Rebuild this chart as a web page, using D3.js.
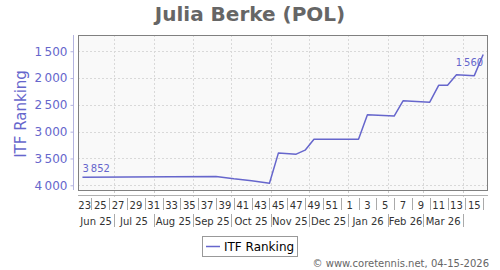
<!DOCTYPE html>
<html><head><meta charset="utf-8">
<script src="https://cdn.jsdelivr.net/npm/d3@7"></script>
<style>
body{margin:0;background:#fff}
svg{display:block;font-family:"DejaVu Sans",sans-serif}
</style>
</head><body>
<svg id="chart" width="500" height="270"></svg>
<script>
// ---- data ----
const chartTitle = "Julia Berke (POL)";
const seriesName = "ITF Ranking";
const rankDates = ["2025-06-06","2025-09-19","2025-10-03","2025-10-17","2025-10-31","2025-11-07",
  "2025-11-21","2025-11-28","2025-12-05","2026-01-09","2026-01-16","2026-02-06","2026-02-13",
  "2026-03-06","2026-03-13","2026-03-20","2026-03-27","2026-04-10","2026-04-17"];
const rankValues = [3852,3835,3880,3915,3963,3400,3420,3345,3140,3140,2685,2710,2425,2450,2135,2135,1940,1955,1560];
const yTickValues = [1500,2000,2500,3000,3500,4000];
const weekLabels = ["23","25","27","29","31","33","35","37","39","41","43","45","47","49","51",
  "1","3","5","7","9","11","13","15"];
const firstWeekBand = "2025-05-30";
const monthStarts = ["2025-06-01","2025-07-01","2025-08-01","2025-09-01","2025-10-01","2025-11-01",
  "2025-12-01","2026-01-01","2026-02-01","2026-03-01","2026-04-01","2026-05-01"];
const monthLabels = ["Jun 25","Jul 25","Aug 25","Sep 25","Oct 25","Nov 25","Dec 25","Jan 26","Feb 26","Mar 26","Apr 26"];
const credit = "\u00A9 www.coretennis.net, 04-15-2026";

// ---- layout ----
const svg = d3.select("#chart");
const parse = d3.timeParse("%Y-%m-%d");
const L = 78, R = 487, T = 35, B = 190;
const lineColor = "#6666cc";
const fmt = v => d3.format(",")(v).replace(/,/g, "\u202F");

const x = d3.scaleTime()
  .domain([new Date(2025,5,2,12), new Date(2026,3,20,0)])
  .range([L, R]);
const y = d3.scaleLinear().domain([1197, 4088]).range([T, B]);

const data = rankDates.map((d,i)=>({date: parse(d), v: rankValues[i]}));
const months = monthStarts.map(parse);

// title
svg.append("text").attr("x", 250).attr("y", 21).attr("text-anchor","middle")
  .attr("font-size", 20).attr("font-weight","bold").attr("fill","#666").text(chartTitle);

// plot background
svg.append("rect").attr("x", L+0.5).attr("y", T+0.5).attr("width", R-L).attr("height", B-T)
  .attr("fill","#f9f9f9");

// grid
const grid = svg.append("g").attr("stroke","#d9d9d9").attr("stroke-dasharray","2,2").attr("stroke-width",1);
yTickValues.forEach(v=>{
  const yy = Math.round(y(v))+0.5;
  grid.append("line").attr("x1",L).attr("x2",R).attr("y1",yy).attr("y2",yy);
});
months.forEach(m=>{
  if (m > x.domain()[0] && m < x.domain()[1]) {
    const xx = Math.round(x(m))+0.5;
    grid.append("line").attr("x1",xx).attr("x2",xx).attr("y1",T).attr("y2",B);
    svg.append("line").attr("x1",xx).attr("x2",xx).attr("y1",B+1).attr("y2",B+9)
      .attr("stroke","#cccccc").attr("stroke-dasharray","2,2");
  }
});

// border
svg.append("rect").attr("x", L+0.5).attr("y", T+0.5).attr("width", R-L).attr("height", B-T)
  .attr("fill","none").attr("stroke","#808080");

// y axis
const yAxis = d3.axisLeft(y).tickValues(yTickValues).tickSize(3).tickPadding(3).tickFormat(fmt);
const gy = svg.append("g").attr("transform",`translate(${73.5},0)`).call(yAxis);
gy.select(".domain").attr("stroke","#b4b4e0").attr("d",`M0,${T}V${B}`);
gy.selectAll(".tick line").attr("stroke","#b4b4e0");
gy.selectAll(".tick text").attr("fill",lineColor).attr("font-size",12)
  .attr("font-family",'"DejaVu Sans",sans-serif');

svg.append("text").attr("transform","translate(26,114) rotate(-90)").attr("text-anchor","middle")
  .attr("font-size",15).attr("fill",lineColor).text(seriesName);

// x period axis line
svg.append("line").attr("x1",L).attr("x2",R+1).attr("y1",195.5).attr("y2",195.5).attr("stroke","#b0b0b0");

// week bands
const [d0, d1] = x.domain();
const wb = svg.append("g");
let start = parse(firstWeekBand);
weekLabels.forEach((lab,i)=>{
  const s = d3.timeDay.offset(start, 14*i), e = d3.timeDay.offset(start, 14*(i+1));
  const a = x(s < d0 ? d0 : s), b = x(e > d1 ? d1 : e);
  wb.append("text").attr("x",(a+b)/2).attr("y",208.5).attr("text-anchor","middle")
    .attr("font-size",10).attr("fill","#333").text(lab);
  if (e < d1) {
    const xx = Math.round(x(e))+0.5;
    wb.append("line").attr("x1",xx).attr("x2",xx).attr("y1",198).attr("y2",210).attr("stroke","#aaa");
  }
});
// month bands
monthLabels.forEach((lab,i)=>{
  const s = months[i], e = months[i+1];
  const a = x(s < d0 ? d0 : s), b = x(e > d1 ? d1 : e);
  const t = svg.append("text").attr("x",(a+b)/2).attr("y",224.5).attr("text-anchor","middle")
    .attr("font-size",10).attr("fill","#333").text(lab);
  if (t.node().getComputedTextLength() > (b-a) - 2) t.remove();
  if (e < d1) {
    const xx = Math.round(x(e))+0.5;
    svg.append("line").attr("x1",xx).attr("x2",xx).attr("y1",214).attr("y2",227).attr("stroke","#aaa");
  }
});

// line
const line = d3.line().x(d=>x(d.date)).y(d=>y(d.v));
svg.append("path").datum(data).attr("d",line).attr("fill","none")
  .attr("stroke",lineColor).attr("stroke-width",1.5).attr("stroke-linejoin","round");

// point labels
const first = data[0], last = data[data.length-1];
svg.append("text").attr("x",x(first.date)).attr("y",y(first.v)-5).attr("font-size",10)
  .attr("fill",lineColor).text(fmt(first.v));
svg.append("text").attr("x",x(last.date)).attr("y",y(last.v)+12).attr("text-anchor","end")
  .attr("font-size",10).attr("fill",lineColor).text(fmt(last.v));

// legend
const lg = svg.append("g");
lg.append("rect").attr("x",202.5).attr("y",236.5).attr("width",95).attr("height",20)
  .attr("fill","#fff").attr("stroke","#999");
lg.append("line").attr("x1",206).attr("x2",220).attr("y1",246.5).attr("y2",246.5)
  .attr("stroke",lineColor).attr("stroke-width",1.5);
lg.append("text").attr("x",224).attr("y",251).attr("font-size",12).attr("fill","#000").text(seriesName);

// credit
svg.append("text").attr("x",489).attr("y",266.5).attr("text-anchor","end").attr("font-size",10)
  .attr("fill","#666").text(credit);
</script>
</body></html>
